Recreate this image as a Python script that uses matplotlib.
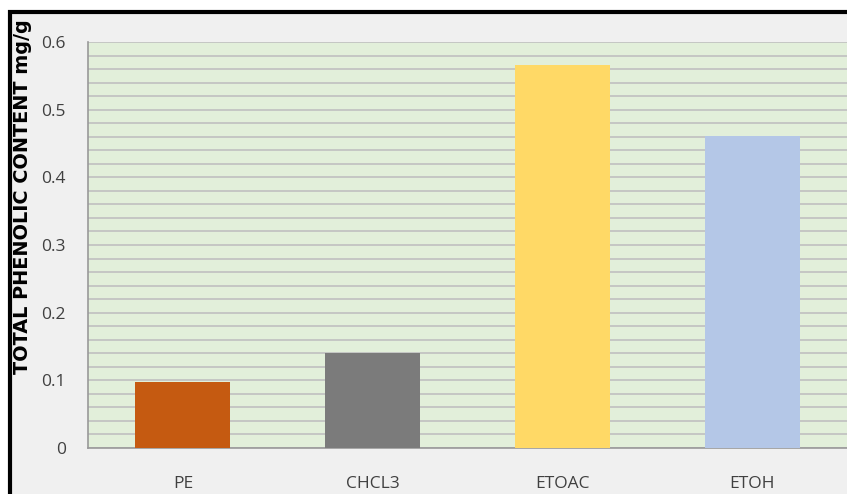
import numpy as np
import matplotlib
matplotlib.use('Agg')
import matplotlib.pyplot as plt
from matplotlib.patches import Rectangle

# phenolic content per extract fraction
fractions = ['PE', 'CHCL3', 'ETOAC', 'ETOH']
phenolic = [0.097, 0.140, 0.566, 0.461]
bar_colors = ['#C55A11', '#7B7B7B', '#FFD966', '#B4C7E7']
yticks = [0, 0.1, 0.2, 0.3, 0.4, 0.5, 0.6]
ytick_labels = ['0', '0.1', '0.2', '0.3', '0.4', '0.5', '0.6']

font = ['Open Sans', 'DejaVu Sans']

W, H = 847, 494
fig = plt.figure(figsize=[W/100, H/100], dpi=100)
fig.patch.set_facecolor('white')

# chart frame: grey fill with a heavy black border on top/left
fig.patches.append(Rectangle((10/W, -0.1), 1.0, (H - 12)/H + 0.1, transform=fig.transFigure,
                             facecolor='#F0F0F0', edgecolor='black', lw=3, zorder=0))

ax = fig.add_axes([88/W, 46/H, (W - 88)/W, 406/H])
ax.set_zorder(2)
ax.set_facecolor('#E2EFDA')

x = np.arange(len(fractions))
ax.bar(x, phenolic, width=0.5, color=bar_colors, zorder=3)

ax.set_xlim(-0.5, 3.5)
ax.set_ylim(0, 0.6)
ax.set_yticks(yticks)
ax.set_yticklabels(ytick_labels)
ax.set_xticks(x)
ax.set_xticklabels(fractions)

# minor gridlines every 0.02
ax.set_yticks(np.arange(0, 0.601, 0.02), minor=True)
ax.grid(axis='y', which='both', color='#C0C0C0', lw=1.2, zorder=1)
ax.tick_params(axis='both', which='both', length=0, colors='#404040', labelsize=12.5)
ax.tick_params(axis='y', pad=16)
ax.tick_params(axis='x', pad=20)
for lab in ax.get_xticklabels() + ax.get_yticklabels():
    lab.set_family(font)

for s in ['top', 'right']:
    ax.spines[s].set_visible(False)
for s in ['left', 'bottom']:
    ax.spines[s].set_color('#999999')
    ax.spines[s].set_linewidth(1.2)

ylab = fig.text(23/W, 1 - 197/H, 'TOTAL PHENOLIC CONTENT mg/g', rotation=90, ha='center', va='center',
                fontsize=12, fontweight='bold', color='black', family=['DejaVu Sans'],
                zorder=5)
# size the label so it runs about 355 px along the frame
fig.canvas.draw()
ext = ylab.get_window_extent()
ylab.set_fontsize(12 * 355 / ext.height)

fig.savefig('out.png', dpi=100)
